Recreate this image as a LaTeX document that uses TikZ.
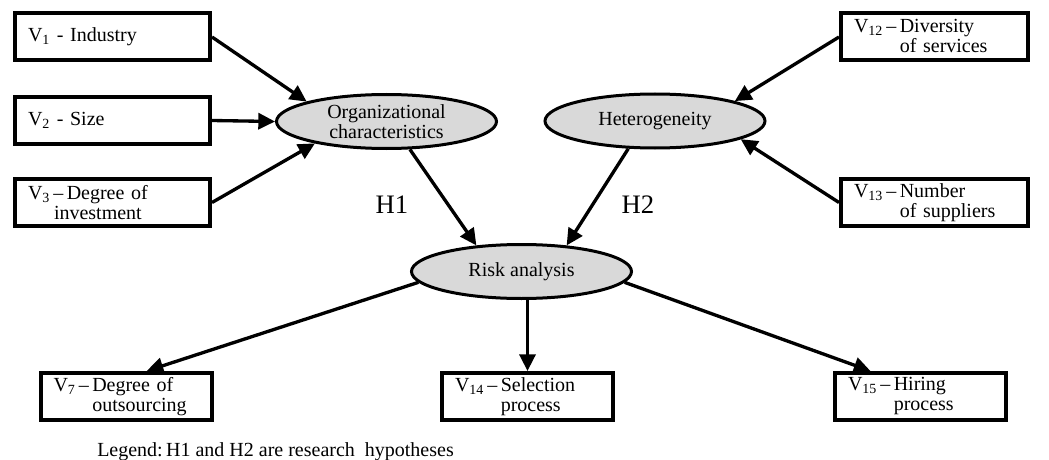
\documentclass[tikz,border=0pt]{standalone}
\usepackage{fontspec}
\setmainfont{Liberation Serif}
\usetikzlibrary{arrows.meta,shapes.geometric}
\newcommand\vtwo[3]{V\textsubscript{#1}\,–\,#2\\\phantom{V\textsubscript{#1}\,–\,}#3}
\begin{document}
\begin{tikzpicture}[x=0.75pt,y=-0.75pt,
  every node/.style={font=\fontsize{15}{15}\selectfont},
  vbox/.style={draw,line width=3pt,rectangle,inner xsep=9.75pt,inner ysep=0pt,align=left,minimum height=35.25pt},
  boxA/.style={vbox,text width=126.75pt},
  boxB/.style={vbox,text width=120.75pt},
  boxC/.style={vbox,text width=108.75pt},
  lat/.style={draw,ellipse,line width=2.25pt,fill=black!15,inner sep=0pt,minimum width=165pt,minimum height=40.5pt,align=center},
  arr/.style={line width=2.5pt,-{Triangle[length=12.5pt,width=12pt]}},
  hyp/.style={font=\fontsize{20}{20}\selectfont}]
\useasboundingbox (0,0) rectangle (1049,460);
% latent variables
\node[lat] (org) at (386.5,121.5) {Organizational\\characteristics};
\node[lat] (het) at (655,121) {Heterogeneity};
\node[lat] (risk) at (521.5,271.5) {Risk analysis};
% left boxes
\node[boxA] (v1) at (112.5,37) {V\textsubscript{1} - Industry};
\node[boxA] (v2) at (112.5,120.5) {V\textsubscript{2} - Size};
\node[boxA] (v3) at (112.5,202.5) {V\textsubscript{3}\,–\,Degree of\\\hspace*{19.5pt}investment};
% right boxes
\node[boxB] (v12) at (934.5,37) {\vtwo{12}{Diversity}{of services}};
\node[boxB] (v13) at (934.5,202.5) {\vtwo{13}{Number}{of suppliers}};
% bottom boxes
\node[boxC] (v7) at (126,396.5) {\vtwo{7}{Degree of}{outsourcing}};
\node[boxC] (v14) at (527.5,396.5) {\vtwo{14}{Selection}{process}};
\node[boxC] (v15) at (920.5,396.5) {\vtwo{15}{Hiring}{process}};
% hypothesis labels
\node[hyp] (h1) at (392,205) {H1};
\node[hyp] (h2) at (638,205) {H2};
% legend
\node[anchor=base west,inner sep=0pt] (leg) at (97,456) {Legend:\,H1 and H2 are research\ \ hypotheses};
% connectors
\draw[arr] (v1.east) -- (org.166);
\draw[arr] (v2.east) -- (org.west);
\draw[arr] (v3.east) -- (org.197);
\draw[arr] (v12.west) -- (het.14);
\draw[arr] (v13.west) -- (het.-12);
\draw[arr] (org.-50) -- (risk.150);
\draw[arr] (het.226) -- (risk.30);
\draw[arr] (risk.186) -- (v7.51);
\draw[arr] (v14.north |- risk.south) -- (v14.north);
\draw[arr] (risk.-6) -- (v15.153);
\end{tikzpicture}
\end{document}
